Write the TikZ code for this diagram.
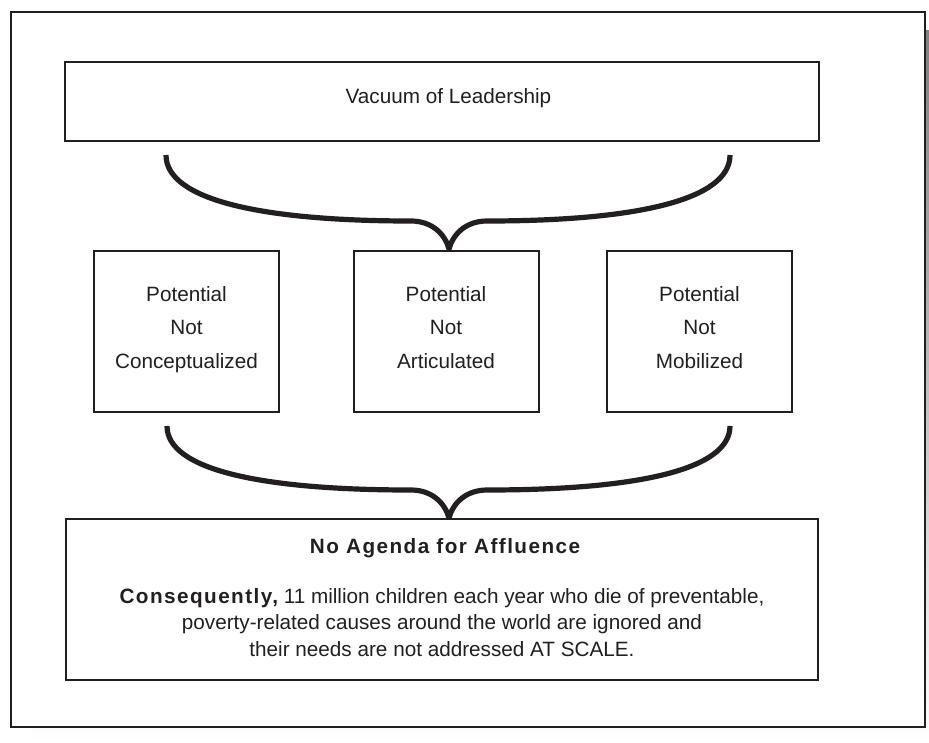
\documentclass[tikz,border=0pt]{standalone}
\usepackage{fontspec}
\setmainfont{Liberation Sans}
\newfontfamily\spacedfont{Liberation Sans}[LetterSpace=7]
\definecolor{ink}{HTML}{231F20}
\definecolor{shade}{HTML}{BEBFC1}

\begin{document}
\begin{tikzpicture}[x=1pt,y=-1pt,
  frame/.style={draw=ink, line width=2.2pt, fill=white},
  box/.style={draw=ink, line width=2pt, inner sep=0pt, fill=white},
  label/.style={text=ink, inner sep=0pt, anchor=base, align=center,
                font=\fontsize{20.7}{33.5}\selectfont},
  brace/.style={draw=ink, line width=5.2pt, line join=bevel},
]
\useasboundingbox (0,0) rectangle (929,742);

% drop shadow and outer frame
\fill[shade] (32,30) rectangle (929,742);
\draw[frame] (11,12) rectangle (925,727);

% boxes
\node[box, minimum width=754pt, minimum height=79pt]  (lead)   at (442,101.5) {};
\node[box, minimum width=185pt, minimum height=161pt] (concep) at (186.5,331) {};
\node[box, minimum width=185pt, minimum height=161pt] (artic)  at (446,331) {};
\node[box, minimum width=185pt, minimum height=161pt] (mobil)  at (699.5,331) {};
\node[box, minimum width=752pt, minimum height=161pt] (agenda) at (442,599.5) {};

% texts (base anchor sits on the last line of a multi-line node)
\node[label] (leadtxt) at (448.5,103) {Vacuum of Leadership};
\node[label] (conceptxt) at (186.5,368) {Potential\\Not\\Conceptualized};
\node[label] (artictxt)  at (446,368)   {Potential\\Not\\Articulated};
\node[label] (mobiltxt)  at (699.5,368) {Potential\\Not\\Mobilized};
\node[label, font=\spacedfont\bfseries\fontsize{20.7}{26.5}\selectfont] (agtitle) at (445,553) {No Agenda for Affluence};
\node[label, font=\fontsize{20.7}{26.5}\selectfont] (agbody) at (442,656)
  {{\spacedfont\bfseries Consequently,} 11 million children each year who die of preventable,\\
   poverty-related causes around the world are ignored and\\
   their needs are not addressed AT SCALE.};

% upper brace
\coordinate (b1l) at (166,155);
\coordinate (b1ml) at (411,221);
\coordinate (b1t) at (449,249);
\coordinate (b1mr) at (487,221);
\coordinate (b1r) at (730,155);
\draw[brace] (b1l) .. controls (166,200) and (262,221) .. (b1ml)
  .. controls (432,221) and (445,234) .. (b1t)
  .. controls (453,234) and (466,221) .. (b1mr)
  .. controls (636,221) and (730,200) .. (b1r);

% lower brace
\coordinate (b2l) at (167,426);
\coordinate (b2ml) at (411,490);
\coordinate (b2t) at (449,518);
\coordinate (b2mr) at (487,490);
\coordinate (b2r) at (730,426);
\draw[brace] (b2l) .. controls (167,470) and (262,490) .. (b2ml)
  .. controls (432,490) and (445,503) .. (b2t)
  .. controls (453,503) and (466,490) .. (b2mr)
  .. controls (636,490) and (730,470) .. (b2r);
\end{tikzpicture}
\end{document}
